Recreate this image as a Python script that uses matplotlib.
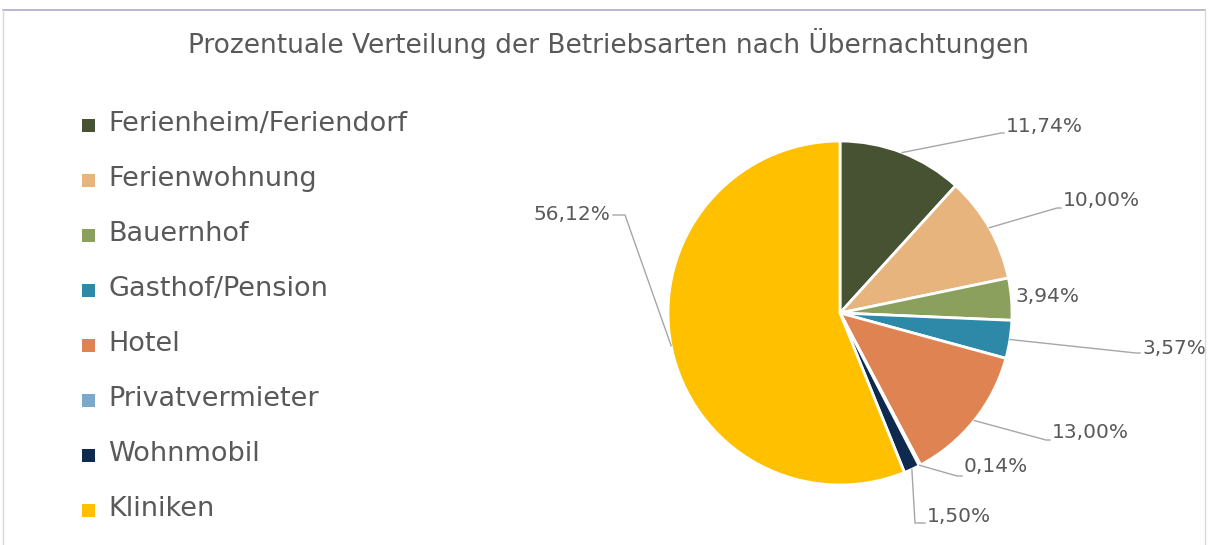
import numpy as np
import matplotlib.pyplot as plt
from matplotlib.lines import Line2D
from matplotlib.patches import Rectangle

plt.rcParams['font.family'] = ['DejaVu Sans']

# data
categories = ["Ferienheim/Feriendorf", "Ferienwohnung", "Bauernhof", "Gasthof/Pension",
              "Hotel", "Privatvermieter", "Wohnmobil", "Kliniken"]
shares = [11.74, 10.00, 3.94, 3.57, 13.00, 0.14, 1.50, 56.12]
labels = ["11,74%", "10,00%", "3,94%", "3,57%", "13,00%", "0,14%", "1,50%", "56,12%"]
colors = ["#475233", "#e8b47e", "#8aa05c", "#2e89a9", "#e08352", "#7aa9c9", "#0f2a4f", "#ffc000"]

txt_col = "#595959"
W, H = 1209, 545
fig = plt.figure(figsize=(W / 100, H / 100), dpi=100)

# pie axes (center 840,313 px, radius 172 px)
cx, cy, r = 840, 313, 172
ax = fig.add_axes([(cx - r) / W, (H - cy - r) / H, 2 * r / W, 2 * r / H])
wedges, _ = ax.pie(shares, colors=colors, startangle=90, counterclock=False,
                   wedgeprops=dict(edgecolor="white", linewidth=2))
ax.set_xlim(-1, 1)
ax.set_ylim(-1, 1)
ax.set_aspect("auto")
ax.axis("off")


def px(x, y):
    return (x - cx) / r, (cy - y) / r


# label positions in px: text anchor point, elbow point (None = no leader), ha
label_pos = [
    ((1006, 126), (1001, 133), "left"),
    ((1063, 201), (1057, 208), "left"),
    ((1015, 297), None, "left"),
    ((1142, 348), (1136, 353), "left"),
    ((1052, 433), (1046, 440), "left"),
    ((964, 467), (957, 476), "left"),
    ((927, 516), (915, 523), "left"),
    ((610, 215), (625, 215), "right"),
]

ang = 90.0
for i, s in enumerate(shares):
    a0 = ang
    ang -= s * 3.6
    mid = np.deg2rad((a0 + ang) / 2)
    (tx, ty), elbow, ha = label_pos[i]
    if elbow is not None:
        ex, ey = np.cos(mid), np.sin(mid)
        bx, by = px(*elbow)
        endx = px(tx - 2 if ha == "left" else tx + 3, ty)[0]
        ax.plot([ex, bx, endx], [ey, by, by], color="#a6a6a6", lw=1, clip_on=False)
    x, y = px(tx, ty)
    ax.text(x, y, labels[i], ha=ha, va="center", fontsize=14.5, color=txt_col, clip_on=False)

# title
fig.text(609 / W, 1 - 43 / H, "Prozentuale Verteilung der Betriebsarten nach Übernachtungen",
         ha="center", va="center", fontsize=19, color=txt_col)

# legend
for i, name in enumerate(categories):
    yc = 125 + i * 55
    fig.add_artist(Rectangle((82 / W, 1 - (yc + 7) / H), 13 / W, 13 / H,
                             facecolor=colors[i], edgecolor="none", transform=fig.transFigure))
    fig.text(108 / W, 1 - (yc - 1) / H, name, ha="left", va="center", fontsize=19.5, color=txt_col)

# frame
fig.add_artist(Line2D([3 / W, 1205 / W], [1 - 10 / H] * 2, color="#aeaccb", lw=1.2, transform=fig.transFigure))
fig.add_artist(Line2D([3 / W] * 2, [0, 1 - 10 / H], color="#d9d9d9", lw=1, transform=fig.transFigure))
fig.add_artist(Line2D([1205 / W] * 2, [0, 1 - 10 / H], color="#d9d9d9", lw=1, transform=fig.transFigure))

fig.savefig("out.png", dpi=100)
